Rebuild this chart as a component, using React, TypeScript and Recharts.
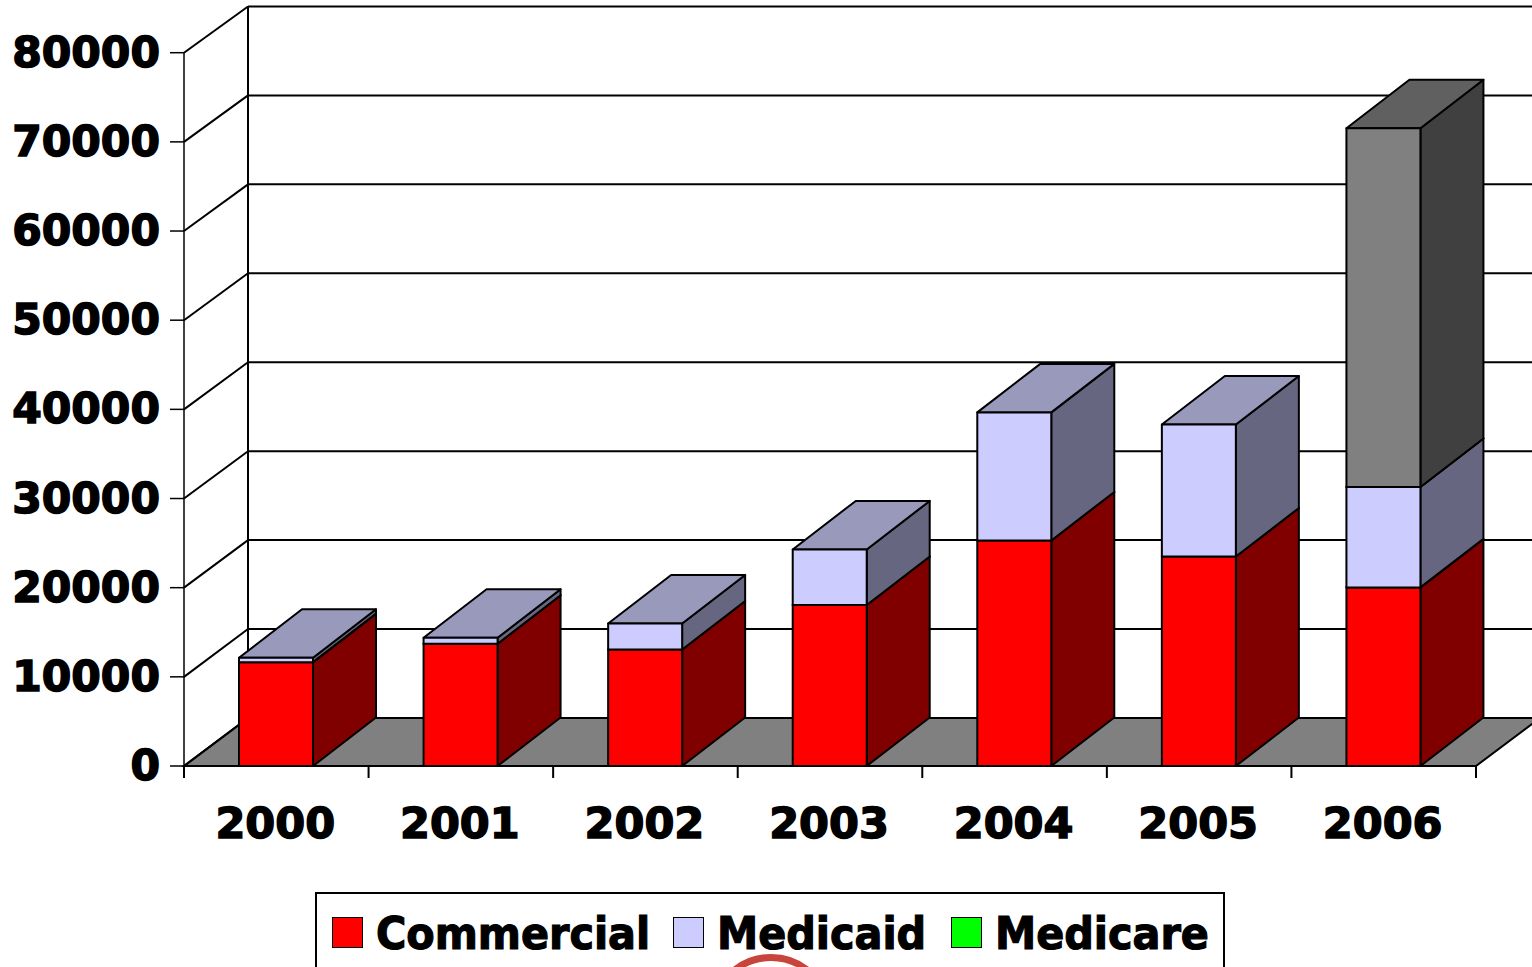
import { Bar, BarChart, CartesianGrid, Legend, XAxis, YAxis } from "recharts";

const years = ["2000", "2001", "2002", "2003", "2004", "2005", "2006"];
const commercial = [11650, 13710, 13070, 18065, 25300, 23500, 20030];
const medicaid = [490, 675, 2920, 6225, 14360, 14800, 11270];
const medicare = [0, 0, 0, 0, 0, 0, 40230];
const yTicks = [0, 10000, 20000, 30000, 40000, 50000, 60000, 70000, 80000];

const data = years.map((year, i) => ({
  year,
  Commercial: commercial[i],
  Medicaid: medicaid[i],
  Medicare: medicare[i],
}));

const FONT = "'DejaVu Sans', Verdana, sans-serif";
const WIDTH = 1532;
const HEIGHT = 967;
const PLOT_LEFT = 184;
const PLOT_RIGHT = 1476;
const PLOT_TOP = 52.7;
const PLOT_BOTTOM = 766;
const DEPTH_X = 64;
const DEPTH_Y = 48;
const BAR_DEPTH_X = 63;
const BAR_DEPTH_Y = 48.5;
const WALL_SCALE = 0.9975;
const STEP = (PLOT_RIGHT - PLOT_LEFT) / years.length;

const legendItems = [
  { name: "Commercial", color: "#ff0000", left: 15 },
  { name: "Medicaid", color: "#ccccff", left: 356 },
  { name: "Medicare", color: "#00ff00", left: 634 },
];

function box3d(front: string, top: string, side: string) {
  return (props: any) => {
    const { x, y, width, height } = props;
    if (!height || height <= 0) return <g />;
    const r = x + width;
    const b = y + height;
    const dx = BAR_DEPTH_X;
    const dy = BAR_DEPTH_Y;
    return (
      <g stroke="#000" strokeWidth={2} strokeLinejoin="round">
        <polygon points={`${r},${y} ${r + dx},${y - dy} ${r + dx},${b - dy} ${r},${b}`} fill={side} />
        <polygon points={`${x},${y} ${x + dx},${y - dy} ${r + dx},${y - dy} ${r},${y}`} fill={top} />
        <rect x={x} y={y} width={width} height={height} fill={front} />
      </g>
    );
  };
}

// back wall line plus the diagonal running to the axis, floor at zero
function WallLine(props: any) {
  const { x1, x2, y1, index } = props;
  const isFloor = Math.abs(y1 - PLOT_BOTTOM) < 1;
  const backY = PLOT_BOTTOM - DEPTH_Y + (y1 - PLOT_BOTTOM) * WALL_SCALE;
  return (
    <g key={`wall-${index}-${y1}`}>
      {isFloor ? (
        <polygon
          points={`${x1},${y1} ${x2},${y1} ${x2 + DEPTH_X},${backY} ${x1 + DEPTH_X},${backY}`}
          fill="#808080"
          stroke="#000"
          strokeWidth={2}
        />
      ) : null}
      <line x1={x1} y1={y1} x2={x1 + DEPTH_X} y2={backY} stroke="#000" strokeWidth={2} />
      <line x1={x1 + DEPTH_X} y1={backY} x2={WIDTH + 10} y2={backY} stroke="#000" strokeWidth={2} />
    </g>
  );
}

function WallEdge(props: any) {
  const { x1, y1, y2, index } = props;
  const top = PLOT_BOTTOM - DEPTH_Y + (y1 - PLOT_BOTTOM) * WALL_SCALE;
  return <line key={`edge-${index}`} x1={x1 + DEPTH_X} x2={x1 + DEPTH_X} y1={top} y2={y2 - DEPTH_Y} stroke="#000" strokeWidth={2} />;
}

function YearTick(props: any) {
  const { x, payload, index } = props;
  const left = x - STEP / 2;
  return (
    <g>
      <line x1={left} x2={left} y1={PLOT_BOTTOM} y2={PLOT_BOTTOM + 12} stroke="#000" strokeWidth={2} />
      {index === years.length - 1 ? (
        <line x1={left + STEP} x2={left + STEP} y1={PLOT_BOTTOM} y2={PLOT_BOTTOM + 12} stroke="#000" strokeWidth={2} />
      ) : null}
      <text x={x - 1} y={838} textAnchor="middle" fontFamily={FONT} fontWeight="bold" fontSize={43} fill="#000" stroke="#000" strokeWidth={1.5}>
        {payload.value}
      </text>
    </g>
  );
}

function ValueTick(props: any) {
  const { x, y, payload } = props;
  return (
    <text x={x} y={y + 14} textAnchor="end" fontFamily={FONT} fontWeight="bold" fontSize={42.5} fill="#000" stroke="#000" strokeWidth={1.5}>
      {payload.value}
    </text>
  );
}

function LegendBox() {
  return (
    <div
      style={{
        position: "absolute",
        left: 315,
        top: 892,
        width: 906,
        height: 120,
        border: "2px solid #000",
        background: "#fff",
        fontFamily: FONT,
        fontWeight: "bold",
        fontSize: 44,
        color: "#000",
        lineHeight: "44px",
        WebkitTextStroke: "1.2px #000",
      }}
    >
      {legendItems.map((item) => (
        <div key={item.name} style={{ position: "absolute", left: item.left, top: 18, display: "flex", alignItems: "flex-start", whiteSpace: "nowrap" }}>
          <span style={{ width: 29, height: 29, marginTop: 5, border: "1.5px solid #000", background: item.color, marginRight: 13, display: "inline-block", WebkitTextStroke: "0" }} />
          <span style={{ display: "inline-block", transform: "scaleX(0.94)", transformOrigin: "left center" }}>{item.name}</span>
        </div>
      ))}
    </div>
  );
}

export default function App() {
  return (
    <div style={{ position: "fixed", left: 0, top: 0, width: WIDTH, height: HEIGHT, overflow: "hidden", background: "#fff" }}>
      <BarChart
        width={WIDTH}
        height={HEIGHT}
        data={data}
        barSize={74}
        margin={{ top: PLOT_TOP, right: WIDTH - PLOT_RIGHT, bottom: 0, left: 0 }}
      >
        <CartesianGrid horizontal={WallLine} vertical={WallEdge} verticalPoints={[PLOT_LEFT]} />
        <XAxis dataKey="year" height={HEIGHT - PLOT_BOTTOM} interval={0} tickLine={false} tick={YearTick} axisLine={{ stroke: "#000", strokeWidth: 2 }} />
        <YAxis
          width={PLOT_LEFT}
          domain={[0, 80000]}
          ticks={yTicks}
          interval={0}
          tickSize={14}
          tickMargin={10}
          tickLine={{ stroke: "#000", strokeWidth: 1.5 }}
          axisLine={{ stroke: "#000", strokeWidth: 1.5 }}
          tick={ValueTick}
        />
        <Bar dataKey="Commercial" stackId="a" isAnimationActive={false} shape={box3d("#ff0000", "#bf0000", "#800000")} />
        <Bar dataKey="Medicaid" stackId="a" isAnimationActive={false} shape={box3d("#ccccff", "#9999bb", "#666680")} />
        <Bar dataKey="Medicare" stackId="a" isAnimationActive={false} shape={box3d("#808080", "#606060", "#404040")} />
        <Legend content={LegendBox} wrapperStyle={{ left: 0, top: 0, bottom: "auto", width: 0, height: 0 }} />
      </BarChart>
      <div
        style={{
          position: "absolute",
          left: 709,
          top: 954,
          width: 124,
          height: 124,
          boxSizing: "border-box",
          borderRadius: "50%",
          border: "7px solid #c8453c",
        }}
      />
    </div>
  );
}
